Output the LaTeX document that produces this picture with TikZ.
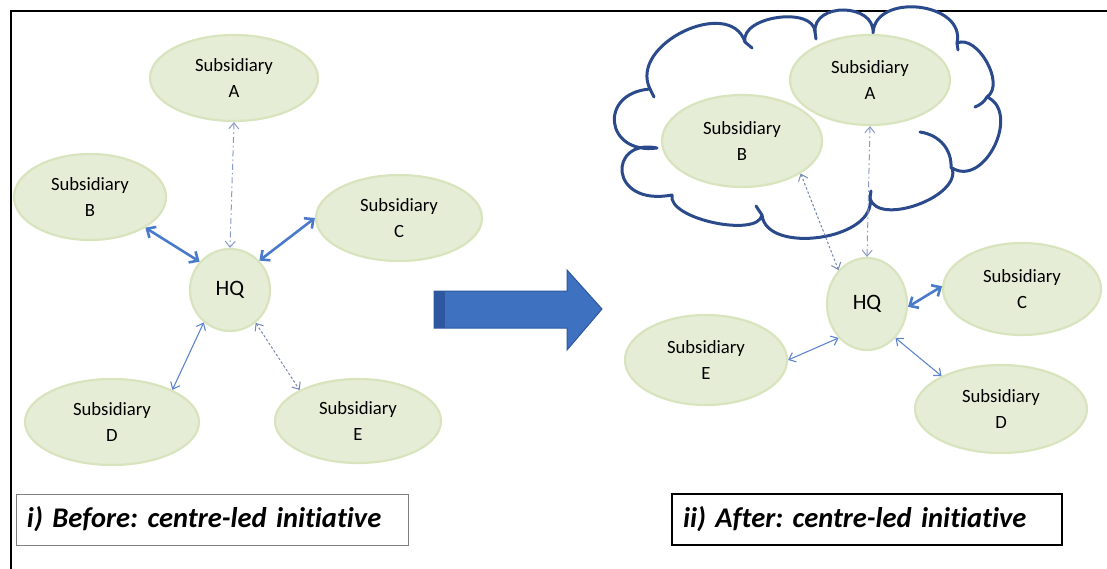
\documentclass[tikz,border=0pt]{standalone}
\usepackage{fontspec}
\setmainfont{Carlito}[Ligatures=NoCommon]
\usetikzlibrary{shapes.geometric,arrows.meta}
\frenchspacing

\definecolor{subfill}{HTML}{E6EDD6}
\definecolor{subedge}{HTML}{D7E4BD}
\definecolor{linkblue}{HTML}{4A7BCB}
\definecolor{fineblue}{HTML}{5D86CF}
\definecolor{dashblue}{HTML}{8A9BC9}
\definecolor{dotblue}{HTML}{7787B6}
\definecolor{cloudline}{HTML}{2A4A8C}
\definecolor{blockblue}{HTML}{3F71C1}
\definecolor{blockdark}{HTML}{2D579E}

\tikzset{
  sub/.style={ellipse, fill=subfill, draw=subedge, line width=2.2pt, inner sep=0pt,
    align=center, font=\fontsize{18.7}{26}\selectfont},
  hq/.style={sub, font=\fontsize{22}{26}\selectfont},
  boldlink/.style={line width=2.6pt, draw=linkblue,
    {Straight Barb[length=7pt,width=13pt]}-{Straight Barb[length=7pt,width=13pt]}},
  finelink/.style={line width=1.1pt, draw=fineblue,
    {Straight Barb[length=6pt,width=10pt]}-{Straight Barb[length=6pt,width=10pt]}},
  dashdotlink/.style={line width=1pt, draw=dashblue, dash pattern=on 6pt off 3pt on 1.5pt off 3pt,
    {Straight Barb[length=6pt,width=10pt]}-{Straight Barb[length=6pt,width=10pt]}},
  dotlink/.style={line width=1pt, draw=dotblue, dash pattern=on 2.5pt off 2pt,
    {Straight Barb[length=6pt,width=10pt]}-{Straight Barb[length=6pt,width=10pt]}},
  caption/.style={rectangle, inner xsep=11pt, inner ysep=0pt, align=left,
    minimum height=51pt, font=\fontsize{28.5}{32}\selectfont\bfseries\itshape},
  puff/.style={draw=cloudline, line width=3pt, line cap=round, line join=round},
}

\begin{document}
\begin{tikzpicture}[x=1pt, y=-1pt]
\useasboundingbox (0,0) rectangle (1107,569);

% outer frame (open to the right and bottom)
\draw[line width=2pt, black] (10.5,569) -- (10.5,11.5) -- (1107,11.5);

% ---------- before: centre-led initiative ----------
\node[sub, minimum width=168pt, minimum height=86pt] (lA) at (234,78) {Subsidiary\\A};
\node[sub, minimum width=152pt, minimum height=86pt] (lB) at (90,197) {Subsidiary\\B};
\node[sub, minimum width=166pt, minimum height=86pt] (lC) at (399,218) {Subsidiary\\C};
\node[hq, minimum width=80pt, minimum height=82pt] (lHQ) at (230,290) {HQ};
\node[sub, minimum width=174pt, minimum height=86pt] (lD) at (112,422) {Subsidiary\\D};
\node[sub, minimum width=166pt, minimum height=84pt] (lE) at (358,421) {Subsidiary\\E};

\draw[dashdotlink] (lA.south) -- (lHQ.north);
\draw[boldlink] (lB.-29.5) -- (lHQ.137);
\draw[boldlink] (lC.180) -- (lHQ.45);
\draw[finelink] (lHQ.231) -- (lD.28);
\draw[dotlink] (lHQ.-52) -- (lE.152);

\node[caption, draw=gray, line width=1pt, text width=370pt] (capL) at (212,519.5)
  {i) Before: centre-led initiative};

% ---------- block arrow ----------
\fill[blockblue] (434,291) -- (567,291) -- (567,270) -- (602,309) -- (567,350)
  -- (567,328) -- (434,328) -- cycle;
\fill[blockdark] (434,291) rectangle (445,328);
\draw[blockdark, line width=1pt, line join=miter] (434,291) -- (567,291) -- (567,270)
  -- (602,309) -- (567,350) -- (567,328) -- (434,328) -- cycle;

% ---------- after: cloud holding A and B ----------
\draw[puff, fill=white]
  (650,89)  .. controls (628,44)  and (730,-4)  .. (745,42)
            .. controls (740,16)  and (814,6)   .. (815,32)
            .. controls (813,2)   and (875,3)   .. (873,33)
            .. controls (875,-8)  and (966,2)   .. (957,43)
            .. controls (977,34)  and (1006,84) .. (987,97)
            .. controls (1021,112) and (985,188) .. (952,168)
            .. controls (962,197) and (877,227) .. (870,198)
            .. controls (877,240) and (766,255) .. (762,215)
            .. controls (758,238) and (667,219) .. (672,195)
            .. controls (608,207) and (608,138) .. (657,148)
            .. controls (605,155) and (598,93)  .. (650,89) -- cycle;
% inner curls of the cloud outline
\draw[puff] (650,89) -- (654,97);
\draw[puff] (745,42) -- (752,48);
\draw[puff] (815,32) -- (816,39);
\draw[puff] (957,43) -- (958,50);
\draw[puff] (987,97) .. controls (984,102) and (980,105) .. (975,107);
\draw[puff] (920,132) .. controls (940,135) and (952,150) .. (951,168);
\draw[puff] (870,198) -- (871,191);
\draw[puff] (762,215) -- (756,206);

\node[sub, minimum width=160pt, minimum height=90pt] (rA) at (870,80) {Subsidiary\\A};
\node[sub, minimum width=160pt, minimum height=92pt] (rB) at (742,141) {Subsidiary\\B};
\node[hq, minimum width=80pt, minimum height=92pt] (rHQ) at (867,304) {HQ};
\node[sub, minimum width=158pt, minimum height=92pt] (rC) at (1022,289) {Subsidiary\\C};
\node[sub, minimum width=162pt, minimum height=90pt] (rE) at (706,360) {Subsidiary\\E};
\node[sub, minimum width=172pt, minimum height=88pt] (rD) at (1001,409) {Subsidiary\\D};

\draw[dashdotlink] (rA.south) -- (rHQ.north);
\draw[dotlink] (rB.-29) -- (rHQ.130);
\draw[boldlink] (rHQ.-4) -- (rC.178);
\draw[finelink] (rE.0) -- (rHQ.230.7);
\draw[finelink] (rHQ.-50.5) -- (rD.151.5);

\node[caption, draw=black, line width=1.4pt, text width=368pt] (capR) at (867,519.5)
  {ii) After: centre-led initiative};
\end{tikzpicture}
\end{document}
